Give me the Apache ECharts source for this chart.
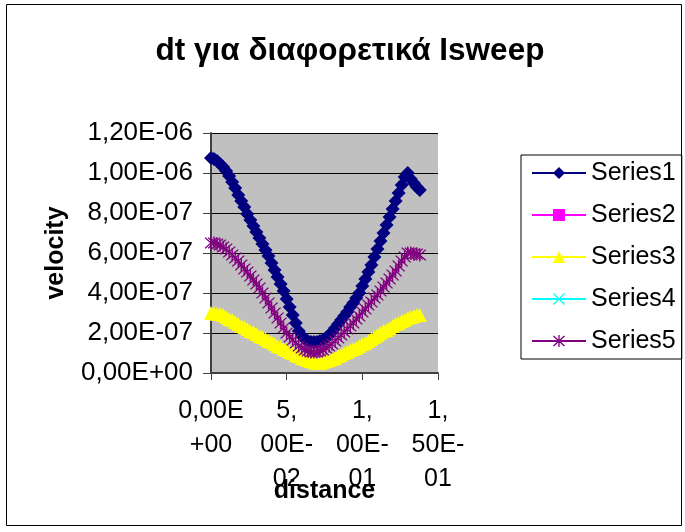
<!DOCTYPE html>
<html>
<head>
<meta charset="utf-8">
<script src="https://cdn.jsdelivr.net/npm/echarts@6/dist/echarts.min.js"></script>
<style>
  html, body { margin: 0; padding: 0; background: #fff; }
  #chart { width: 685px; height: 532px; }
</style>
</head>
<body>
<div id="chart"></div>
<script>
// distance samples (x)
const distance = [
  0.000, 0.002, 0.004, 0.006, 0.008, 0.010, 0.012, 0.014, 0.016, 0.018,
  0.020, 0.022, 0.024, 0.026, 0.028, 0.030, 0.032, 0.034, 0.036, 0.038,
  0.040, 0.042, 0.044, 0.046, 0.048, 0.050, 0.052, 0.054, 0.056, 0.058,
  0.060, 0.062, 0.064, 0.066, 0.068, 0.070, 0.072, 0.074, 0.076, 0.078,
  0.080, 0.082, 0.084, 0.086, 0.088, 0.090, 0.092, 0.094, 0.096, 0.098,
  0.100, 0.102, 0.104, 0.106, 0.108, 0.110, 0.112, 0.114, 0.116, 0.118,
  0.120, 0.122, 0.124, 0.126, 0.128, 0.130, 0.132, 0.134, 0.136, 0.138
];

// velocity per sweep
const series1 = [
  107.5e-8, 107e-8, 106e-8, 104.5e-8, 103e-8, 101e-8, 98.5e-8, 95.5e-8, 92.5e-8, 89e-8,
  86e-8, 83e-8, 79.5e-8, 76.5e-8, 73.5e-8, 70.5e-8, 67.5e-8, 64.5e-8, 61.5e-8, 58.5e-8,
  55e-8, 51.5e-8, 48e-8, 44.5e-8, 41e-8, 37e-8, 33e-8, 29e-8, 25e-8, 21e-8,
  18.5e-8, 17e-8, 16e-8, 15.5e-8, 15.5e-8, 15.5e-8, 16e-8, 16.5e-8, 17.5e-8, 19e-8,
  20.5e-8, 22.5e-8, 24.5e-8, 26.5e-8, 28.5e-8, 30.5e-8, 33e-8, 35e-8, 37.5e-8, 40e-8,
  43.5e-8, 47e-8, 50.5e-8, 54e-8, 58e-8, 62e-8, 66e-8, 70e-8, 74e-8, 78e-8,
  82e-8, 86e-8, 90e-8, 94e-8, 98e-8, 100e-8, 97e-8, 95e-8, 93e-8, 91.5e-8
];
const series2 = [];
const series3 = [
  30e-8, 30e-8, 29.5e-8, 29.5e-8, 29e-8, 28e-8, 27e-8, 26.5e-8, 25.5e-8, 24.5e-8,
  23.5e-8, 23e-8, 22e-8, 21e-8, 20.5e-8, 19.5e-8, 18.5e-8, 18e-8, 17e-8, 16e-8,
  15.5e-8, 14.5e-8, 13.5e-8, 13e-8, 12e-8, 11.5e-8, 10.5e-8, 10e-8, 9e-8, 8.5e-8,
  7.5e-8, 7e-8, 6.5e-8, 6e-8, 5.5e-8, 5e-8, 5e-8, 5.5e-8, 6e-8, 6.5e-8,
  7e-8, 7.5e-8, 8.5e-8, 9e-8, 10e-8, 10.5e-8, 11.5e-8, 12e-8, 12.5e-8, 13.5e-8,
  14.5e-8, 15e-8, 16e-8, 17e-8, 18e-8, 19e-8, 20e-8, 21e-8, 21.5e-8, 22.5e-8,
  23.5e-8, 24.5e-8, 25e-8, 26e-8, 26.5e-8, 27.5e-8, 28e-8, 28.5e-8, 29e-8, 29e-8
];
const series4 = [];
const series5 = [
  65e-8, 65e-8, 64.5e-8, 64e-8, 63e-8, 62e-8, 60.5e-8, 59e-8, 57.5e-8, 56e-8,
  54e-8, 52e-8, 50.5e-8, 48.5e-8, 46.5e-8, 44.5e-8, 42.5e-8, 40e-8, 37.5e-8, 35e-8,
  32.5e-8, 30e-8, 27.5e-8, 25e-8, 22.5e-8, 20e-8, 18e-8, 16.5e-8, 15e-8, 13.5e-8,
  12.5e-8, 11.5e-8, 11e-8, 10.5e-8, 10.5e-8, 10.5e-8, 11e-8, 11.5e-8, 12.5e-8, 13.5e-8,
  14.5e-8, 16e-8, 17.5e-8, 19e-8, 20.5e-8, 22e-8, 23.5e-8, 25e-8, 27e-8, 28.5e-8,
  30.5e-8, 32e-8, 34e-8, 35.5e-8, 37.5e-8, 39e-8, 41e-8, 43e-8, 45e-8, 47e-8,
  49e-8, 51e-8, 53.5e-8, 56e-8, 58e-8, 60e-8, 60e-8, 59.5e-8, 59.5e-8, 59e-8
];

const seriesNames = ['Series1', 'Series2', 'Series3', 'Series4', 'Series5'];

// x tick labels, wrapped the way the axis shows them
const xTickLabels = ['0,00E\n+00', '5,\n00E-\n02', '1,\n00E-\n01', '1,\n50E-\n01'];

const FONT = '"Liberation Sans", Arial, sans-serif';

// marker shapes
const asteriskPath = 'path://M9,0L11,0L11,20L9,20Z M1,2.4L2.4,1L19,17.6L17.6,19Z M17.6,1L19,2.4L2.4,19L1,17.6Z';
const crossPath = 'path://M1,2.4L2.4,1L19,17.6L17.6,19Z M17.6,1L19,2.4L2.4,19L1,17.6Z';

function pairs(ys) {
  return ys.map((y, i) => [distance[i], y]);
}

function sci(v) {
  // 1.2e-6 -> "1,20E-06"
  const s = Number(v).toExponential(2);
  const m = s.match(/^(-?\d)\.(\d+)e([+-])(\d+)$/);
  const exp = m[4].length < 2 ? '0' + m[4] : m[4];
  return m[1] + ',' + m[2] + 'E' + m[3] + exp;
}

function lineSeries(name, data, symbol, size, color) {
  return {
    name: name,
    type: 'line',
    data: pairs(data),
    symbol: symbol,
    symbolSize: size,
    showAllSymbol: true,
    lineStyle: { color: color, width: 1 },
    itemStyle: { color: color, borderWidth: 0 },
    emphasis: { disabled: true },
    animation: false
  };
}

const chart = echarts.init(document.getElementById('chart'), null, { renderer: 'canvas' });

chart.setOption({
  backgroundColor: '#ffffff',
  animation: false,
  title: {
    text: 'dt για διαφορετικά Isweep',
    left: 350,
    textAlign: 'center',
    top: 35,
    padding: 0,
    textStyle: { fontFamily: FONT, fontSize: 31.5, fontWeight: 'bold', color: '#000', lineHeight: 32 }
  },
  graphic: [{
    type: 'rect',
    shape: { x: 6.5, y: 4.5, width: 675, height: 521 },
    style: { fill: 'none', stroke: '#000', lineWidth: 1 },
    silent: true,
    z: -1
  }],
  legend: {
    orient: 'vertical',
    left: 521,
    top: 155,
    padding: [4, 6, 4, 10],
    itemWidth: 54,
    itemHeight: 15,
    itemGap: 14,
    borderColor: '#000',
    borderWidth: 1,
    data: seriesNames,
    textStyle: { fontFamily: FONT, fontSize: 25, color: '#000', lineHeight: 28 }
  },
  grid: {
    left: 211,
    right: 247,
    top: 133,
    bottom: 159,
    show: true,
    backgroundColor: '#C0C0C0',
    borderWidth: 0
  },
  xAxis: {
    type: 'value',
    min: 0,
    max: 0.15,
    interval: 0.05,
    name: 'distance',
    nameLocation: 'middle',
    nameGap: 106,
    nameMoveOverlap: false,
    nameTextStyle: { fontFamily: FONT, fontSize: 25, fontWeight: 'bold', color: '#000', lineHeight: 25 },
    axisLine: { show: true, onZero: false, lineStyle: { color: '#404040', width: 2 } },
    axisTick: { show: true, length: 7, inside: false, lineStyle: { color: '#404040', width: 1 } },
    splitLine: { show: false },
    axisLabel: {
      margin: 21,
      showMinLabel: true,
      showMaxLabel: true,
      hideOverlap: false,
      fontFamily: FONT,
      fontSize: 25,
      color: '#000',
      lineHeight: 34,
      align: 'center',
      formatter: v => xTickLabels[Math.round(v / 0.05)]
    }
  },
  yAxis: {
    type: 'value',
    min: 0,
    max: 1.2e-6,
    interval: 2e-7,
    name: 'velocity',
    nameLocation: 'middle',
    nameGap: 142,
    nameRotate: 90,
    nameMoveOverlap: false,
    nameTextStyle: { fontFamily: FONT, fontSize: 25, fontWeight: 'bold', color: '#000', lineHeight: 25 },
    axisLine: { show: true, lineStyle: { color: '#404040', width: 2 } },
    axisTick: { show: true, length: 8, inside: false, lineStyle: { color: '#404040', width: 1 } },
    splitLine: { show: true, lineStyle: { color: '#000', width: 1 } },
    axisLabel: {
      margin: 18,
      fontFamily: FONT,
      fontSize: 26,
      color: '#000',
      formatter: v => sci(v)
    }
  },
  series: [
    lineSeries(seriesNames[0], series1, 'diamond', 14, '#000080'),
    lineSeries(seriesNames[1], series2, 'rect', 9, '#FF00FF'),
    lineSeries(seriesNames[2], series3, 'triangle', 14, '#FFFF00'),
    lineSeries(seriesNames[3], series4, crossPath, 10, '#00FFFF'),
    lineSeries(seriesNames[4], series5, asteriskPath, 13, '#800080')
  ]
});
</script>
</body>
</html>
